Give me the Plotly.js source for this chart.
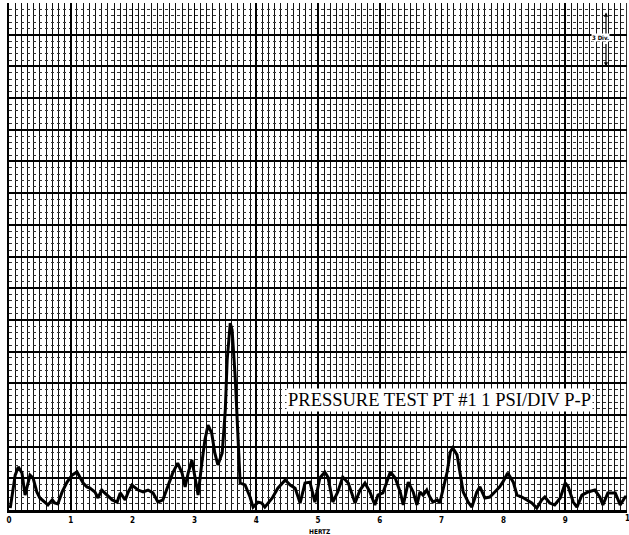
<!DOCTYPE html>
<html>
<head>
<meta charset="utf-8">
<script src="https://cdn.plot.ly/plotly-3.0.1.min.js"></script>
<style>
  html, body { margin: 0; padding: 0; background: #ffffff; }
  #chart { width: 629px; height: 535px; }
</style>
</head>
<body>
<div id="chart"></div>
<script>
// Frequency (Hz)
const hertz = [
  0.02,0.10,0.15,0.21,0.26,0.29,0.34,0.39,0.45,0.50,0.58,0.63,0.70,0.74,0.79,0.86,0.94,
  1.02,1.10,1.15,1.20,1.26,1.31,1.39,1.44,1.50,1.59,1.67,1.75,1.80,1.88,1.93,1.99,
  2.09,2.17,2.25,2.33,2.41,2.49,2.57,2.65,2.73,2.80,2.85,2.90,2.96,
  3.01,3.06,3.12,3.17,3.22,3.28,3.33,3.38,3.45,3.50,3.53,3.58,3.61,3.66,3.71,3.74,3.82,3.90,3.95,
  4.03,4.09,4.14,4.26,4.35,4.47,4.55,4.63,4.71,4.79,4.87,4.95,
  5.03,5.11,5.16,5.24,5.32,5.40,5.49,5.60,5.68,5.76,5.84,5.92,5.97,
  6.05,6.17,6.25,6.33,6.38,6.46,6.54,6.60,6.65,6.70,6.76,6.81,6.86,6.93,6.97,
  7.02,7.09,7.14,7.18,7.25,7.30,7.35,7.43,7.49,7.57,7.62,7.70,7.78,7.86,7.94,7.99,
  8.07,8.16,8.22,8.30,8.38,8.46,8.54,8.62,8.67,8.75,8.83,8.92,
  9.00,9.05,9.13,9.19,9.27,9.37,9.48,9.56,9.61,9.69,9.81,9.89,9.97,10.0
];
// Pressure amplitude (divisions, 1 PSI/DIV P-P)
const pressure = [
  0.06,1.10,1.36,1.17,0.47,0.69,1.10,1.01,0.57,0.38,0.25,0.16,0.32,0.22,0.19,0.57,0.88,
  1.10,1.20,1.04,0.85,0.73,0.69,0.57,0.38,0.63,0.47,0.32,0.25,0.54,0.32,0.57,0.79,
  0.63,0.57,0.63,0.54,0.25,0.32,0.73,1.17,1.48,1.17,0.73,1.17,1.58,
  1.04,0.47,1.48,2.21,2.68,2.43,1.80,1.42,1.80,3.15,4.73,5.90,5.68,4.20,2.11,0.85,0.79,0.41,0.09,
  0.25,0.22,0.09,0.38,0.69,0.95,0.79,0.69,0.22,0.85,0.88,0.25,
  1.01,1.20,1.04,0.25,0.57,1.04,0.85,0.22,0.63,0.85,0.57,0.16,0.47,
  0.54,1.20,1.01,0.57,0.16,0.88,0.57,0.16,0.57,0.47,0.63,0.41,0.25,0.32,0.22,
  0.63,1.20,1.83,1.96,1.74,1.10,0.57,0.25,0.09,0.57,0.73,0.38,0.41,0.57,0.73,0.88,
  1.17,0.88,0.47,0.41,0.32,0.22,0.06,0.32,0.41,0.22,0.16,0.38,
  0.85,0.73,0.25,0.09,0.47,0.57,0.63,0.41,0.16,0.54,0.54,0.16,0.41,0.41
];
const tickValues = [0,1,2,3,4,5,6,7,8,9,10];
const tickLabels = ["0","1","2","3","4","5","6","7","8","9","1"];
const titleText = "PRESSURE TEST PT #1 1 PSI/DIV P-P";
const axisLabel = "HERTZ";
const scaleLabel = "3 Div.";

const tickFont = { family: 'DejaVu Sans Condensed', size: 8, color: '#000', weight: 'bold' };

const trace = {
  x: hertz, y: pressure, type: 'scatter', mode: 'lines',
  line: { color: '#000000', width: 3 },
  hoverinfo: 'skip'
};

// last tick label sits on the right border and would be clipped as an axis label
const lastIdx = tickValues.length - 1;

const layout = {
  width: 629, height: 535,
  margin: { l: 9, r: 2, t: 3, b: 25 },
  paper_bgcolor: '#ffffff', plot_bgcolor: '#ffffff',
  showlegend: false,
  xaxis: {
    range: [0, 10],
    tickmode: 'array', tickvals: tickValues.slice(0, lastIdx), ticktext: tickLabels.slice(0, lastIdx),
    ticks: '', ticklabelstandoff: 1,
    tickfont: tickFont,
    showgrid: true, gridcolor: '#000000', gridwidth: 1.6,
    minor: { tick0: 0, dtick: 0.1, showgrid: true, gridcolor: '#111111', gridwidth: 1 },
    showline: true, linecolor: '#000', linewidth: 2.5,
    zeroline: false, fixedrange: true
  },
  yaxis: {
    range: [0, 16], tick0: 0, dtick: 1,
    showticklabels: false, ticks: '',
    showgrid: true, gridcolor: '#000000', gridwidth: 2,
    minor: { tick0: 0, dtick: 0.2, showgrid: true, gridcolor: '#333333', gridwidth: 1, griddash: 'dot' },
    showline: true, linecolor: '#000', linewidth: 2,
    zeroline: false, fixedrange: true
  },
  shapes: [
    { type: 'line', xref: 'x', yref: 'paper', x0: tickValues[lastIdx], x1: tickValues[lastIdx], y0: 0, y1: 1,
      line: { color: '#000', width: 1.6 } }
  ],
  annotations: [
    { x: tickValues[lastIdx], y: -0.017, xref: 'x', yref: 'paper', text: tickLabels[lastIdx], showarrow: false,
      font: tickFont, xanchor: 'center', yanchor: 'middle' },
    { x: 6.97, y: 3.47, xref: 'x', yref: 'y', text: titleText, showarrow: false,
      font: { family: 'Liberation Serif', size: 18.5, color: '#000' },
      bgcolor: '#ffffff', borderpad: 1, xanchor: 'center', yanchor: 'middle' },
    { x: 5.03, y: -0.043, xref: 'x', yref: 'paper', text: axisLabel, showarrow: false,
      font: { family: 'DejaVu Sans Condensed', size: 6.5, color: '#000', weight: 'bold' },
      xanchor: 'center', yanchor: 'middle' },
    { x: 9.66, y: 15.7, xref: 'x', yref: 'y', text: '', showarrow: true,
      ax: 0, ay: 24, arrowhead: 2, arrowsize: 0.7, arrowwidth: 1.2, arrowcolor: '#000' },
    { x: 9.66, y: 14.0, xref: 'x', yref: 'y', text: '', showarrow: true,
      ax: 0, ay: -24, arrowhead: 2, arrowsize: 0.7, arrowwidth: 1.2, arrowcolor: '#000' },
    { x: 9.57, y: 14.9, xref: 'x', yref: 'y', text: scaleLabel, showarrow: false,
      font: { family: 'DejaVu Sans Condensed', size: 6, color: '#000', weight: 'bold' },
      bgcolor: '#ffffff', borderpad: 0, xanchor: 'center', yanchor: 'middle' }
  ]
};

Plotly.newPlot('chart', [trace], layout, { staticPlot: true, displayModeBar: false });
</script>
</body>
</html>
